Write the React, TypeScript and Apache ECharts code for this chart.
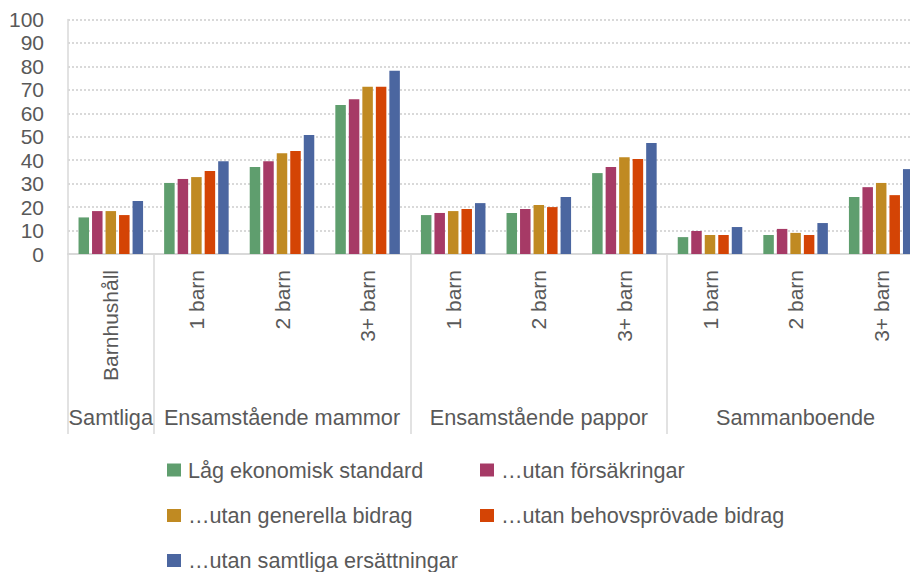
import React, { useEffect, useRef } from 'react';
import * as echarts from 'echarts';

const categories = ['Barnhushåll', '1 barn', '2 barn', '3+ barn', '1 barn', '2 barn', '3+ barn', '1 barn', '2 barn', '3+ barn'];
const groupLabels = ['Samtliga', '', 'Ensamstående mammor', '', '', 'Ensamstående pappor', '', '', 'Sammanboende', ''];
const separatorIndices = [0, 1, 4, 7];

const seriesNames = [
  'Låg ekonomisk standard',
  '…utan försäkringar',
  '…utan generella bidrag',
  '…utan behovsprövade bidrag',
  '…utan samtliga ersättningar',
];
const colors = ['#5F9E6E', '#A63A66', '#C08A22', '#D44405', '#4B66A0'];

const lowStandard = [15.6, 30.3, 37.1, 63.5, 16.6, 17.5, 34.5, 7.2, 8.1, 24.3];
const withoutInsurance = [18.3, 32.0, 39.6, 66.0, 17.5, 19.2, 37.1, 9.8, 10.7, 28.5];
const withoutGeneral = [18.3, 32.8, 43.0, 71.3, 18.3, 20.9, 41.3, 8.1, 9.0, 30.3];
const withoutMeansTested = [16.6, 35.4, 43.9, 71.3, 19.2, 20.0, 40.5, 8.1, 8.1, 25.1];
const withoutAll = [22.6, 39.6, 50.7, 78.1, 21.7, 24.3, 47.3, 11.5, 13.2, 36.2];

const seriesValues = [lowStandard, withoutInsurance, withoutGeneral, withoutMeansTested, withoutAll];

const yMin = 0;
const yMax = 100;
const yInterval = 10;

export default function App() {
  const ref = useRef<HTMLDivElement>(null);

  useEffect(() => {
    if (!ref.current) return;
    const chart = echarts.init(ref.current, null, { renderer: 'svg' });
    const font = '"Liberation Sans", Arial, sans-serif';
    const gray = '#595959';
    const lineGray = '#D9D9D9';
    const legendPos = [
      { left: 167, top: 459 },
      { left: 480, top: 459 },
      { left: 167, top: 504.5 },
      { left: 480, top: 504.5 },
      { left: 167, top: 549.5 },
    ];

    chart.setOption({
      animation: false,
      color: colors,
      textStyle: { fontFamily: font },
      grid: { left: 68, right: -14, top: 19.5, bottom: 318, outerBoundsMode: 'none' },
      xAxis: [
        {
          type: 'category',
          data: categories,
          position: 'bottom',
          axisLine: { show: true, lineStyle: { color: lineGray, width: 2 } },
          axisTick: {
            show: true,
            interval: (i: number) => separatorIndices.includes(i),
            length: 180,
            lineStyle: { color: lineGray, width: 1.5 },
          },
          axisLabel: { interval: 0, rotate: 90, margin: 16, color: gray, fontSize: 21, fontFamily: font },
        },
        {
          type: 'category',
          data: groupLabels,
          position: 'bottom',
          gridIndex: 0,
          axisLine: { show: false },
          axisTick: { show: false },
          axisLabel: { interval: 0, margin: 152.5, color: gray, fontSize: 21.7, fontFamily: font },
        },
      ],
      yAxis: {
        type: 'value',
        min: yMin,
        max: yMax,
        interval: yInterval,
        axisLine: { show: true, lineStyle: { color: lineGray, width: 1.5 } },
        axisTick: { show: false },
        axisLabel: { margin: 24, color: gray, fontSize: 21, fontFamily: font },
        splitLine: { show: true, lineStyle: { color: lineGray, width: 2, type: [2, 2] } },
      },
      legend: seriesNames.map((name, i) => ({
        data: [name],
        left: legendPos[i].left,
        top: legendPos[i].top,
        padding: 0,
        icon: 'rect',
        itemWidth: 14,
        itemHeight: 13,
        selectedMode: false,
        textStyle: { color: gray, fontSize: 21.6, fontFamily: font, padding: [0, 0, 0, 2] },
      })),
      series: seriesNames.map((name, i) => ({
        name,
        type: 'bar',
        data: seriesValues[i],
        barGap: '28.6%',
        barCategoryGap: '24.6%',
        itemStyle: { color: colors[i] },
      })),
    });

    return () => chart.dispose();
  }, []);

  return (
    <div
      ref={ref}
      style={{ position: 'absolute', left: 0, top: 0, width: 910, height: 572 }}
    />
  );
}
